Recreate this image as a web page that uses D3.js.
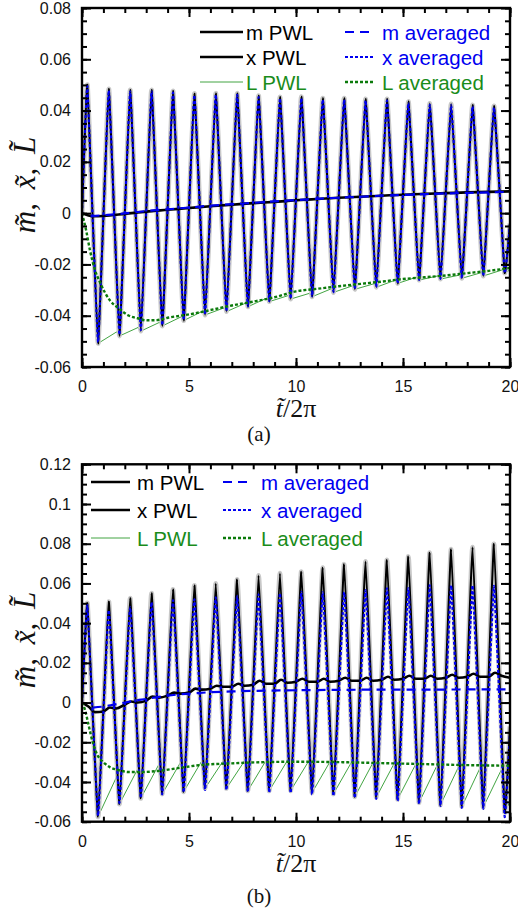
<!DOCTYPE html>
<html>
<head>
<meta charset="utf-8">
<script src="https://cdn.jsdelivr.net/npm/d3@7"></script>
<style>
  body { margin: 0; background: #fff; }
</style>
</head>
<body>
<div id="chart"></div>
<script>
// ---- data ----
const xTicks = [0, 5, 10, 15, 20];
const yTicksA = [-0.06, -0.04, -0.02, 0, 0.02, 0.04, 0.06, 0.08];
const yTicksB = [-0.06, -0.04, -0.02, 0, 0.02, 0.04, 0.06, 0.08, 0.1, 0.12];

// times of the oscillation extremes (t/2pi)
const tPeak = [0.25, 1.25, 2.25, 3.25, 4.25, 5.25, 6.25, 7.25, 8.25, 9.25,
  10.25, 11.25, 12.25, 13.25, 14.25, 15.25, 16.25, 17.25, 18.25, 19.25];
const tTrough = [0.75, 1.75, 2.75, 3.75, 4.75, 5.75, 6.75, 7.75, 8.75, 9.75,
  10.75, 11.75, 12.75, 13.75, 14.75, 15.75, 16.75, 17.75, 18.75, 19.75];
const tLTop = [1.62, 2.62, 3.62, 4.62, 5.62, 6.62, 7.62, 8.62, 9.62, 10.62,
  11.62, 12.62, 13.62, 14.62, 15.62, 16.62, 17.62, 18.62, 19.62];

// panel (a)
const xPeakA = [0.0500, 0.0484, 0.0480, 0.0480, 0.0476, 0.0466, 0.0467, 0.0467, 0.0458, 0.0453,
  0.0454, 0.0448, 0.0448, 0.0445, 0.0445, 0.0435, 0.0428, 0.0426, 0.0422, 0.0418];
const xTroughA = [-0.0508, -0.0479, -0.0460, -0.0440, -0.0419, -0.0397, -0.0384, -0.0365, -0.0345, -0.0335,
  -0.0326, -0.0309, -0.0297, -0.0289, -0.0274, -0.0261, -0.0257, -0.0254, -0.0245, -0.0232];
const xAvgPeakA = [0.0494, 0.0478, 0.0474, 0.0474, 0.0470, 0.0460, 0.0461, 0.0461, 0.0452, 0.0447,
  0.0448, 0.0442, 0.0442, 0.0439, 0.0439, 0.0429, 0.0422, 0.0420, 0.0416, 0.0412];
const xAvgTroughA = [-0.0503, -0.0474, -0.0456, -0.0437, -0.0416, -0.0395, -0.0381, -0.0363, -0.0343, -0.0333,
  -0.0324, -0.0308, -0.0296, -0.0288, -0.0273, -0.0260, -0.0256, -0.0253, -0.0244, -0.0232];
const LTopA = [-0.0463, -0.0446, -0.0426, -0.0405, -0.0383, -0.0370, -0.0352, -0.0332, -0.0322, -0.0313,
  -0.0296, -0.0284, -0.0276, -0.0262, -0.0250, -0.0245, -0.0242, -0.0233, -0.0222];
const mPwlA = [[0, 0], [0.5, -0.0012], [1, -0.0011], [2, -0.0003], [3, 0.0006], [4, 0.0013], [5, 0.002],
  [6, 0.0027], [7, 0.0033], [8, 0.0039], [9, 0.0044], [10, 0.005], [11, 0.0055], [12, 0.006], [13, 0.0064],
  [14, 0.0068], [15, 0.0072], [16, 0.0075], [17, 0.0078], [18, 0.0081], [19, 0.0083], [20, 0.0085]];
const mAvgA = [[0.4, -0.0012], [1, -0.0008], [2, -0.0001], [3, 0.0008], [4, 0.0015], [5, 0.0022], [6, 0.0029],
  [7, 0.0035], [8, 0.004], [9, 0.0046], [10, 0.0051], [11, 0.0056], [12, 0.006], [13, 0.0064], [14, 0.0068],
  [15, 0.0071], [16, 0.0074], [17, 0.0077], [18, 0.0079], [19, 0.0081], [20, 0.0083]];
const LAvgA = [[0, 0], [0.2, -0.007], [0.37, -0.0144], [0.6, -0.022], [0.84, -0.027], [1.3, -0.034], [1.7, -0.037],
  [2.15, -0.0398], [2.6, -0.041], [3, -0.0418], [3.5, -0.0417], [4, -0.0408], [5, -0.0395], [6, -0.0378],
  [7, -0.036], [8, -0.0345], [9, -0.0328], [10, -0.0305], [11, -0.0295], [12, -0.0285], [13, -0.0276],
  [14, -0.0267], [15, -0.0257], [16, -0.025], [17, -0.0243], [18, -0.0234], [19, -0.0225], [20, -0.0214]];

// panel (b)
const xPeakB = [0.0500, 0.0508, 0.0525, 0.0550, 0.0570, 0.0590, 0.0600, 0.0620, 0.0640, 0.0651,
  0.0659, 0.0679, 0.0696, 0.0710, 0.0718, 0.0735, 0.0755, 0.0772, 0.0782, 0.0799];
const xTroughB = [-0.0575, -0.0511, -0.0482, -0.0460, -0.0449, -0.0432, -0.0432, -0.0444, -0.0444, -0.0444,
  -0.0454, -0.0460, -0.0474, -0.0477, -0.0487, -0.0504, -0.0516, -0.0524, -0.0527, -0.0550];
const xAvgPeakB = [0.0490, 0.0465, 0.0480, 0.0505, 0.0515, 0.0520, 0.0530, 0.0535, 0.0545, 0.0550,
  0.0558, 0.0555, 0.0556, 0.0567, 0.0575, 0.0575, 0.0590, 0.0590, 0.0590, 0.0588];
const xAvgTroughB = [-0.0570, -0.0505, -0.0480, -0.0462, -0.0452, -0.0440, -0.0440, -0.0450, -0.0452, -0.0455,
  -0.0462, -0.0470, -0.0480, -0.0485, -0.0495, -0.0510, -0.0520, -0.0530, -0.0535, -0.0575];
const LTopB = [-0.0373, -0.0331, -0.0306, -0.0298, -0.0290, -0.0290, -0.0290, -0.0288, -0.0288, -0.0290,
  -0.0292, -0.0295, -0.0298, -0.0300, -0.0305, -0.0310, -0.0318, -0.0325, -0.0333];
const mPwlB = [[0, 0], [0.3, -0.002], [0.6, -0.0048], [1, -0.0045], [1.3, -0.0025], [1.6, -0.003], [2, -0.001],
  [2.3, 0.0005], [2.6, 0], [3, 0.001], [3.3, 0.003], [3.6, 0.0025], [4, 0.0035], [4.3, 0.005], [4.6, 0.0045],
  [5, 0.005], [5.3, 0.007], [5.6, 0.0065], [6, 0.007], [6.3, 0.0085], [6.6, 0.008], [7, 0.008], [7.3, 0.0095],
  [7.6, 0.0085], [8, 0.009], [8.3, 0.011], [8.6, 0.0095], [9, 0.0095], [9.3, 0.0115], [9.6, 0.01], [10, 0.0105],
  [10.3, 0.012], [10.6, 0.0105], [11, 0.0105], [11.3, 0.012], [11.6, 0.0105], [12, 0.011], [12.3, 0.0125],
  [12.6, 0.011], [13, 0.011], [13.3, 0.0125], [13.6, 0.011], [14, 0.0115], [14.3, 0.013], [14.6, 0.0115],
  [15, 0.012], [15.3, 0.0135], [15.6, 0.012], [16, 0.012], [16.3, 0.0135], [16.6, 0.012], [17, 0.0125],
  [17.3, 0.014], [17.6, 0.0125], [18, 0.013], [18.3, 0.0145], [18.6, 0.013], [19, 0.013], [19.3, 0.015],
  [19.6, 0.0135], [20, 0.0125]];
const mAvgB = [[0.5, -0.0025], [1, -0.002], [1.5, -0.001], [2, 0], [2.5, 0.001], [3, 0.0018], [3.5, 0.0027],
  [4, 0.0035], [5, 0.0045], [6, 0.0052], [7, 0.0056], [8, 0.0059], [10, 0.0062], [12, 0.0064], [14, 0.0065],
  [16, 0.0065], [18, 0.0066], [20, 0.0066]];
const LAvgB = [[0, 0], [0.15, -0.004], [0.3, -0.011], [0.5, -0.02], [0.7, -0.026], [1, -0.03], [1.3, -0.0325],
  [1.7, -0.034], [2.2, -0.035], [2.8, -0.035], [3.5, -0.0345], [4.5, -0.033], [5.5, -0.0315], [7, -0.0306],
  [8.5, -0.03], [10, -0.0298], [12, -0.03], [14, -0.0305], [16, -0.031], [18, -0.0315], [20, -0.0318]];

const legendLabels = ['m PWL', 'x PWL', 'L PWL', 'm averaged', 'x averaged', 'L averaged'];

// ---- helpers to assemble point lists from the read values ----
function oscillation(start, peaks, troughs, end) {
  const pts = [start];
  peaks.forEach((p, i) => {
    pts.push([tPeak[i], p]);
    pts.push([tTrough[i], troughs[i]]);
  });
  pts.push(end);
  return pts;
}

function sawtooth(troughs, tops, end) {
  const pts = [];
  troughs.forEach((v, i) => {
    pts.push([tTrough[i], v]);
    if (i < tops.length) pts.push([tLTop[i], tops[i]]);
  });
  pts.push(end);
  return pts;
}

// ---- styles ----
const BLUE = '#0000f0';
const GREEN = '#1a8c1a';
const DKGREEN = '#0b7a0b';
const SERIF = '"Liberation Serif", "Times New Roman", serif';
const styles = {
  mPwl: { color: '#000', width: 2.6 },
  xPwl: { color: '#000', width: 2 },
  LPwl: { color: '#2c9a2c', width: 0.9 },
  mAvg: { color: BLUE, width: 2.2, dash: '9,6' },
  xAvg: { color: BLUE, width: 2.2, dash: '3,2' },
  LAvg: { color: DKGREEN, width: 2.4, dash: '3,2' }
};

const width = 518, height = 913;
const xLeft = 82, xRight = 510;

const svg = d3.select('#chart').append('svg')
  .attr('width', width)
  .attr('height', height)
  .style('font-family', '"Liberation Sans", Arial, sans-serif');

svg.append('rect').attr('width', width).attr('height', height).attr('fill', '#fff');

function fmt(d) {
  return Math.abs(d) < 1e-9 ? '0' : String(+d.toFixed(2));
}

function drawPanel(cfg) {
  const g = svg.append('g');
  const x = d3.scaleLinear().domain([0, 20]).range([xLeft, xRight]);
  const y = d3.scaleLinear().domain(cfg.yDomain).range([cfg.bottom, cfg.top]);

  const clipId = 'clip-' + cfg.name;
  svg.append('clipPath').attr('id', clipId).append('rect')
    .attr('x', xLeft).attr('y', cfg.top)
    .attr('width', xRight - xLeft).attr('height', cfg.bottom - cfg.top);

  const plot = g.append('g').attr('clip-path', `url(#${clipId})`);
  const curves = {
    linear: d3.curveLinear,
    smooth: d3.curveMonotoneX,
    sharp: d3.curveCardinal.tension(0.72)
  };

  cfg.series.forEach(s => {
    const line = d3.line().x(d => x(d[0])).y(d => y(d[1])).curve(curves[s.curve || 'smooth']);
    plot.append('path')
      .datum(s.data)
      .attr('fill', 'none')
      .attr('stroke', s.style.color)
      .attr('stroke-width', s.style.width)
      .attr('stroke-dasharray', s.style.dash || null)
      .attr('stroke-linejoin', 'round')
      .attr('d', line);
  });

  // axes: major + minor ticks, all pointing inward
  const yMinor = d3.range(cfg.yDomain[0], cfg.yDomain[1] + 1e-6, 0.005);
  const xMinor = d3.range(0, 21, 1);
  const axes = [
    [d3.axisBottom(x).tickValues(xTicks).tickFormat(fmt).tickPadding(14), `translate(0,${cfg.bottom})`],
    [d3.axisBottom(x).tickValues(xMinor).tickFormat('').tickSizeInner(-5), `translate(0,${cfg.bottom})`],
    [d3.axisTop(x).tickValues(xTicks).tickFormat(''), `translate(0,${cfg.top})`],
    [d3.axisTop(x).tickValues(xMinor).tickFormat('').tickSizeInner(-5), `translate(0,${cfg.top})`],
    [d3.axisLeft(y).tickValues(cfg.yTicks).tickFormat(fmt).tickPadding(11), `translate(${xLeft},0)`],
    [d3.axisLeft(y).tickValues(yMinor).tickFormat('').tickSizeInner(-5), `translate(${xLeft},0)`],
    [d3.axisRight(y).tickValues(cfg.yTicks).tickFormat(''), `translate(${xRight},0)`],
    [d3.axisRight(y).tickValues(yMinor).tickFormat('').tickSizeInner(-5), `translate(${xRight},0)`]
  ];
  axes.forEach(([ax, tr], i) => {
    if (i % 2 === 0) ax.tickSizeInner(-9);
    ax.tickSizeOuter(0);
    const a = g.append('g').attr('transform', tr).call(ax);
    a.select('.domain').remove();
    a.selectAll('line').attr('stroke', '#000').attr('stroke-width', 2);
    a.selectAll('text').attr('font-size', 16).attr('fill', '#111')
      .style('font-family', '"Liberation Sans", Arial, sans-serif');
  });

  g.append('rect')
    .attr('x', xLeft).attr('y', cfg.top)
    .attr('width', xRight - xLeft).attr('height', cfg.bottom - cfg.top)
    .attr('fill', 'none').attr('stroke', '#000').attr('stroke-width', 2.4);

  // legend
  const lg = cfg.legend;
  const items = [
    { label: legendLabels[0], style: styles.mPwl, text: '#000', col: 0, row: 0 },
    { label: legendLabels[1], style: styles.xPwl, text: '#000', col: 0, row: 1, w: 2.6 },
    { label: legendLabels[2], style: styles.LPwl, text: GREEN, col: 0, row: 2 },
    { label: legendLabels[3], style: styles.mAvg, text: BLUE, col: 1, row: 0 },
    { label: legendLabels[4], style: styles.xAvg, text: BLUE, col: 1, row: 1 },
    { label: legendLabels[5], style: styles.LAvg, text: GREEN, col: 1, row: 2 }
  ];
  items.forEach(it => {
    const c = lg.cols[it.col];
    const yy = lg.rows[it.row];
    g.append('line')
      .attr('x1', c[0]).attr('x2', c[1]).attr('y1', yy).attr('y2', yy)
      .attr('stroke', it.style.color)
      .attr('stroke-width', it.w || it.style.width)
      .attr('stroke-dasharray', it.style.dash || null);
    g.append('text')
      .attr('x', c[2]).attr('y', yy + 7.5)
      .attr('font-size', 20.5)
      .attr('fill', it.text)
      .text(it.label);
  });

  // x axis title: t~/2pi (combining tilde over the t)
  const xt = g.append('text')
    .attr('x', cfg.xTitle[0]).attr('y', cfg.xTitle[1])
    .attr('text-anchor', 'middle')
    .style('font-family', SERIF)
    .attr('font-size', 26)
    .attr('fill', '#111');
  xt.append('tspan').attr('font-style', 'italic').text('t\u0303');
  xt.append('tspan').text('/2π');

  // y axis title: m~, x~, L~ (rotated)
  g.append('text')
    .attr('transform', `translate(${cfg.yTitle[0]},${cfg.yTitle[1]}) rotate(-90)`)
    .attr('text-anchor', 'middle')
    .style('font-family', SERIF)
    .attr('font-style', 'italic')
    .attr('font-size', 31)
    .attr('fill', '#111')
    .style('word-spacing', '6px')
    .text('m\u0303, x\u0303, L\u0303');

  // panel tag
  g.append('text')
    .attr('x', 259).attr('y', cfg.tag[1])
    .attr('text-anchor', 'middle')
    .style('font-family', SERIF)
    .attr('font-size', 21)
    .attr('fill', '#111')
    .text(cfg.tag[0]);
}

const halo = { color: '#c8c8c8', width: 5 };

drawPanel({
  name: 'a',
  top: 8, bottom: 367,
  yDomain: [-0.06, 0.08],
  yTicks: yTicksA,
  series: [
    { data: sawtooth(xTroughA, LTopA, [20, -0.0222]), style: styles.LPwl, curve: 'linear' },
    { data: oscillation([0, 0], xPeakA, xTroughA, [20, -0.004]), style: halo, curve: 'sharp' },
    { data: oscillation([0, 0], xPeakA, xTroughA, [20, -0.004]), style: styles.xPwl, curve: 'sharp' },
    { data: mPwlA, style: styles.mPwl },
    { data: oscillation([0, 0], xAvgPeakA, xAvgTroughA, [20, -0.004]), style: styles.xAvg, curve: 'sharp' },
    { data: mAvgA, style: styles.mAvg },
    { data: LAvgA, style: styles.LAvg }
  ],
  legend: { cols: [[200, 243, 246], [345, 375, 382]], rows: [32, 57, 82] },
  xTitle: [296, 417],
  yTitle: [35, 185],
  tag: ['(a)', 441]
});

drawPanel({
  name: 'b',
  top: 464.3, bottom: 821.7,
  yDomain: [-0.06, 0.12],
  yTicks: yTicksB,
  series: [
    { data: sawtooth(xTroughB, LTopB, [20, -0.05]), style: styles.LPwl, curve: 'linear' },
    { data: oscillation([0, 0], xPeakB, xTroughB, [20, -0.012]), style: halo, curve: 'sharp' },
    { data: oscillation([0, 0], xPeakB, xTroughB, [20, -0.012]), style: styles.xPwl, curve: 'sharp' },
    { data: mPwlB, style: styles.mPwl },
    { data: oscillation([0, 0], xAvgPeakB, xAvgTroughB, [20, -0.015]), style: styles.xAvg, curve: 'sharp' },
    { data: mAvgB, style: styles.mAvg },
    { data: LAvgB, style: styles.LAvg }
  ],
  legend: { cols: [[91, 130, 137], [223, 253, 261]], rows: [482, 510, 538] },
  xTitle: [296, 872],
  yTitle: [35, 640],
  tag: ['(b)', 903]
});
</script>
</body>
</html>
